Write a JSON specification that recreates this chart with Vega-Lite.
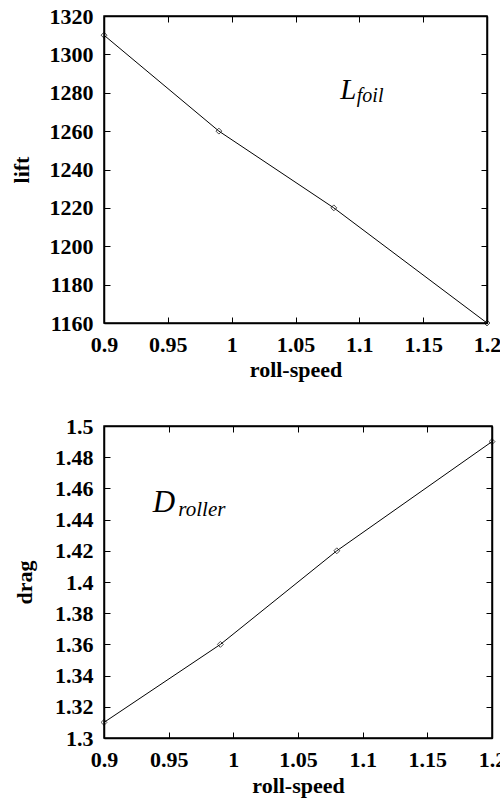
{
  "$schema": "https://vega.github.io/schema/vega-lite/v6.json",
  "background": "white",
  "padding": {"left": 9, "top": 4, "right": 8, "bottom": 1},
  "spacing": 33,
  "config": {
    "view": {"stroke": "black", "strokeWidth": 1.5},
    "axis": {
      "labelFont": "Liberation Serif", "labelFontWeight": "bold", "labelFontSize": 22, "labelColor": "black",
      "titleFont": "Liberation Serif", "titleFontWeight": "bold", "titleFontSize": 22, "titleColor": "black",
      "domainColor": "black", "domainWidth": 1.5, "tickColor": "black", "tickSize": -6, "labelPadding": 17,
      "grid": false, "labelFlush": false, "labelOverlap": false
    }
  },
  "vconcat": [
    {
      "width": 383, "height": 307,
      "data": {"values": [
        {"speed": 0.9, "lift": 1310}, {"speed": 0.99, "lift": 1260}, {"speed": 1.08, "lift": 1220}, {"speed": 1.2, "lift": 1160}
      ]},
      "resolve": {"axis": {"x": "independent", "y": "independent"}},
      "layer": [
        {
          "mark": {"type": "line", "color": "black", "strokeWidth": 1},
          "encoding": {
            "x": {"field": "speed", "type": "quantitative", "scale": {"domain": [0.9, 1.2], "nice": false, "zero": false},
                  "axis": {"title": "roll-speed", "values": [0.9, 0.95, 1, 1.05, 1.1, 1.15, 1.2], "format": "~g", "titlePadding": 4}},
            "y": {"field": "lift", "type": "quantitative", "scale": {"domain": [1160, 1320], "nice": false, "zero": false},
                  "axis": {"title": "lift", "values": [1160, 1180, 1200, 1220, 1240, 1260, 1280, 1300, 1320], "format": "d", "titlePadding": 16}}
          }
        },
        {
          "mark": {"type": "point", "shape": "diamond", "filled": false, "color": "black", "size": 35, "strokeWidth": 1},
          "encoding": {
            "x": {"field": "speed", "type": "quantitative", "axis": {"orient": "top", "labels": false, "title": null, "values": [0.9, 0.95, 1, 1.05, 1.1, 1.15, 1.2]}},
            "y": {"field": "lift", "type": "quantitative", "axis": {"orient": "right", "labels": false, "title": null, "values": [1160, 1180, 1200, 1220, 1240, 1260, 1280, 1300, 1320]}}
          }
        },
        {
          "data": {"values": [{"speed": 1.085, "lift": 1277, "t": "L"}]},
          "mark": {"type": "text", "font": "Liberation Serif", "fontStyle": "italic", "fontSize": 29, "align": "left", "baseline": "alphabetic", "color": "black"},
          "encoding": {
            "x": {"field": "speed", "type": "quantitative", "axis": null},
            "y": {"field": "lift", "type": "quantitative", "axis": null},
            "text": {"field": "t"}
          }
        },
        {
          "data": {"values": [{"speed": 1.098, "lift": 1275, "t": "foil"}]},
          "mark": {"type": "text", "font": "Liberation Serif", "fontStyle": "italic", "fontSize": 20, "align": "left", "baseline": "alphabetic", "color": "black"},
          "encoding": {
            "x": {"field": "speed", "type": "quantitative", "axis": null},
            "y": {"field": "lift", "type": "quantitative", "axis": null},
            "text": {"field": "t"}
          }
        }
      ]
    },
    {
      "width": 388, "height": 312,
      "data": {"values": [
        {"speed": 0.9, "drag": 1.31}, {"speed": 0.99, "drag": 1.36}, {"speed": 1.08, "drag": 1.42}, {"speed": 1.2, "drag": 1.49}
      ]},
      "resolve": {"axis": {"x": "independent", "y": "independent"}},
      "layer": [
        {
          "mark": {"type": "line", "color": "black", "strokeWidth": 1},
          "encoding": {
            "x": {"field": "speed", "type": "quantitative", "scale": {"domain": [0.9, 1.2], "nice": false, "zero": false},
                  "axis": {"title": "roll-speed", "values": [0.9, 0.95, 1, 1.05, 1.1, 1.15, 1.2], "format": "~g", "titlePadding": 5}},
            "y": {"field": "drag", "type": "quantitative", "scale": {"domain": [1.3, 1.5], "nice": false, "zero": false},
                  "axis": {"title": "drag", "values": [1.3, 1.32, 1.34, 1.36, 1.38, 1.4, 1.42, 1.44, 1.46, 1.48, 1.5], "format": "~g", "titlePadding": 18}}
          }
        },
        {
          "mark": {"type": "point", "shape": "diamond", "filled": false, "color": "black", "size": 35, "strokeWidth": 1},
          "encoding": {
            "x": {"field": "speed", "type": "quantitative", "axis": {"orient": "top", "labels": false, "title": null, "values": [0.9, 0.95, 1, 1.05, 1.1, 1.15, 1.2]}},
            "y": {"field": "drag", "type": "quantitative", "axis": {"orient": "right", "labels": false, "title": null, "values": [1.3, 1.32, 1.34, 1.36, 1.38, 1.4, 1.42, 1.44, 1.46, 1.48, 1.5]}}
          }
        },
        {
          "data": {"values": [{"speed": 0.9377, "drag": 1.445, "t": "D"}]},
          "mark": {"type": "text", "font": "Liberation Serif", "fontStyle": "italic", "fontSize": 31, "align": "left", "baseline": "alphabetic", "color": "black"},
          "encoding": {
            "x": {"field": "speed", "type": "quantitative", "axis": null},
            "y": {"field": "drag", "type": "quantitative", "axis": null},
            "text": {"field": "t"}
          }
        },
        {
          "data": {"values": [{"speed": 0.9575, "drag": 1.442, "t": "roller"}]},
          "mark": {"type": "text", "font": "Liberation Serif", "fontStyle": "italic", "fontSize": 21, "align": "left", "baseline": "alphabetic", "color": "black"},
          "encoding": {
            "x": {"field": "speed", "type": "quantitative", "axis": null},
            "y": {"field": "drag", "type": "quantitative", "axis": null},
            "text": {"field": "t"}
          }
        }
      ]
    }
  ]
}
